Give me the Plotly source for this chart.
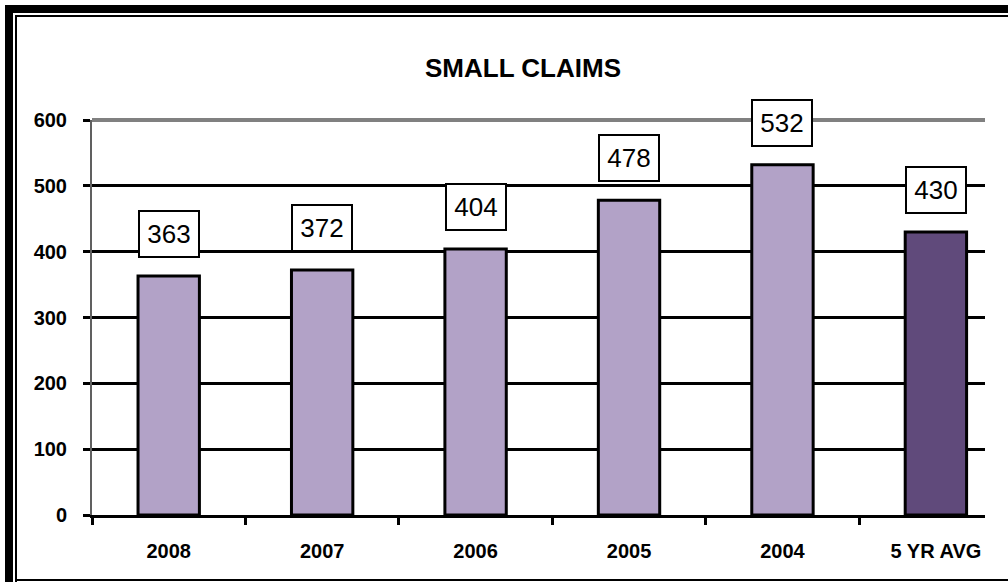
import plotly.graph_objects as go

# small claims filed, by year
years = ['2008', '2007', '2006', '2005', '2004', '5 YR AVG']
claims = [363, 372, 404, 478, 532, 430]
bar_colors = ['#B2A2C7', '#B2A2C7', '#B2A2C7', '#B2A2C7', '#B2A2C7', '#604A7B']
y_ticks = [0, 100, 200, 300, 400, 500, 600]

W, H = 1008, 582
L, R, T, B = 92, 23, 120, 67
pw, ph = W - L - R, H - T - B


def px_x(p):
    return (p - L) / pw


def px_y(p):
    return (H - B - p) / ph


fig = go.Figure()
fig.add_trace(go.Bar(x=years, y=claims, width=0.4,
                     marker=dict(color=bar_colors, line=dict(color='black', width=3)),
                     hoverinfo='x+y'))

# value boxes above bars (index used for x since year names look numeric)
for i, v in enumerate(claims):
    fig.add_annotation(x=i, y=v, text=str(v), showarrow=False,
                       yanchor='bottom', yshift=18, width=54, height=40,
                       bgcolor='white', bordercolor='black', borderwidth=2, borderpad=2,
                       font=dict(family='Liberation Sans, Arial', size=26, color='black'))

# top gridline is grey in the original
fig.add_shape(type='line', xref='paper', yref='paper', x0=0, x1=1, y0=1, y1=1,
              line=dict(color='#808080', width=4), layer='above')

# double frame: top, left and bottom edges only (right side is off the picture)
for pos, lw in [(9, 8), (16, 2)]:
    bottom = 580 if lw == 2 else 590
    fig.add_shape(type='line', xref='paper', yref='paper',
                  x0=px_x(pos - lw / 2), x1=px_x(W + 10), y0=px_y(pos), y1=px_y(pos),
                  line=dict(color='black', width=lw), layer='above')
    fig.add_shape(type='line', xref='paper', yref='paper',
                  x0=px_x(pos), x1=px_x(pos), y0=px_y(pos - lw / 2), y1=px_y(H + 10),
                  line=dict(color='black', width=lw), layer='above')
    fig.add_shape(type='line', xref='paper', yref='paper',
                  x0=px_x(pos), x1=px_x(W + 10), y0=px_y(bottom), y1=px_y(bottom),
                  line=dict(color='black', width=lw), layer='above')

fig.update_layout(
    width=W, height=H,
    margin=dict(l=L, r=R, t=T, b=B),
    paper_bgcolor='white', plot_bgcolor='white',
    showlegend=False, bargap=0.6,
    title=dict(text='<b>SMALL CLAIMS</b>', x=523 / W, xanchor='center',
               y=1 - 68 / H, yanchor='middle',
               font=dict(family='Liberation Sans, Arial', size=26, color='black')),
    xaxis=dict(type='category', range=[-0.5, 5.32], tickson='boundaries', ticks='outside',
               ticklen=7, tickwidth=3, tickcolor='black',
               showline=True, linecolor='black', linewidth=3,
               showgrid=False, ticklabelstandoff=16,
               tickfont=dict(family='Liberation Sans, Arial', size=20, color='black', weight='bold')),
    yaxis=dict(range=[0, 600], tickvals=y_ticks, ticks='outside',
               ticklen=7, tickwidth=3, tickcolor='black',
               showline=True, linecolor='#606060', linewidth=2,
               showgrid=True, gridcolor='black', gridwidth=2.5,
               zeroline=False, ticklabelstandoff=12,
               tickfont=dict(family='Liberation Sans, Arial', size=20, color='black', weight='bold')),
)

fig.write_html("out.html", config={'displayModeBar': False},
               post_script="document.body.style.margin='0';document.body.style.overflow='hidden';")
